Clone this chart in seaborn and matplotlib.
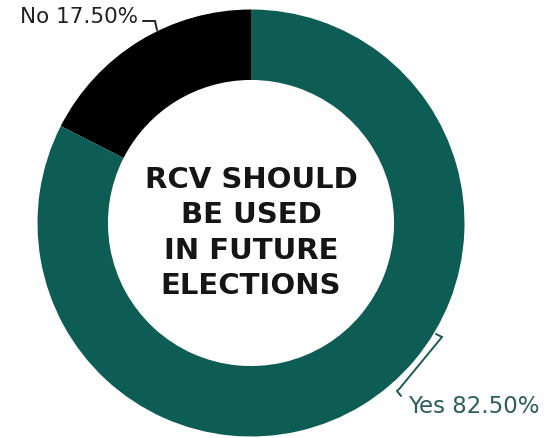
import matplotlib.pyplot as plt
import seaborn as sns

# data
answers = ["No", "Yes"]
shares = [17.5, 82.5]
answer_colors = ["#000000", "#0e5d55"]
center_lines = ["RCV SHOULD", "BE USED", "IN FUTURE", "ELECTIONS"]

sns.set_theme(style="white")
plt.rcParams['font.family'] = ['DejaVu Sans']

W, H = 551, 439
cx, cy, R = 251, 224, 213.5  # donut centre / radius in pixels


def px(x, y):
    # pixel position (from top-left) -> data coords of the donut axes
    return (x - cx) / R, (cy - y) / R


fig = plt.figure(figsize=(W / 100, H / 100), dpi=100)
ax = fig.add_axes([(cx - R) / W, (H - cy - R) / H, 2 * R / W, 2 * R / H])

ax.pie(shares, colors=answer_colors, startangle=90, counterclock=True,
       radius=1, wedgeprops=dict(width=0.33, edgecolor='none'))
ax.set_xlim(-1, 1)
ax.set_ylim(-1, 1)
ax.set_aspect('equal')
ax.axis('off')

# centre caption
ax.text(0, px(0, 233)[1], "\n".join(center_lines), ha='center', va='center',
        fontsize=21, fontweight='bold', color='#151515', linespacing=1.33)

# "No" label + leader
no_label = f"{answers[0]} {shares[0]:.2f}%"
x, y = px(138, 17)
ax.text(x, y, no_label, ha='right', va='center', fontsize=15.5,
        color='#222222', clip_on=False)
pts = [px(143, 22), px(155, 22), px(157, 31)]
ax.plot([p[0] for p in pts], [p[1] for p in pts], color='#222222', lw=1.4,
        clip_on=False, solid_joinstyle='miter')

# "Yes" label + bracket
yes_label = f"{answers[1]} {shares[1]:.2f}%"
x, y = px(408, 407)
ax.text(x, y, yes_label, ha='left', va='center', fontsize=16.5,
        color='#2b5f58', clip_on=False)
pts = [px(436, 335), px(442, 338), px(400, 389), px(397, 392), px(401, 397)]
ax.plot([p[0] for p in pts], [p[1] for p in pts], color='#1f5a52', lw=1.4,
        clip_on=False, solid_joinstyle='miter')

fig.savefig("out.png", dpi=100)
